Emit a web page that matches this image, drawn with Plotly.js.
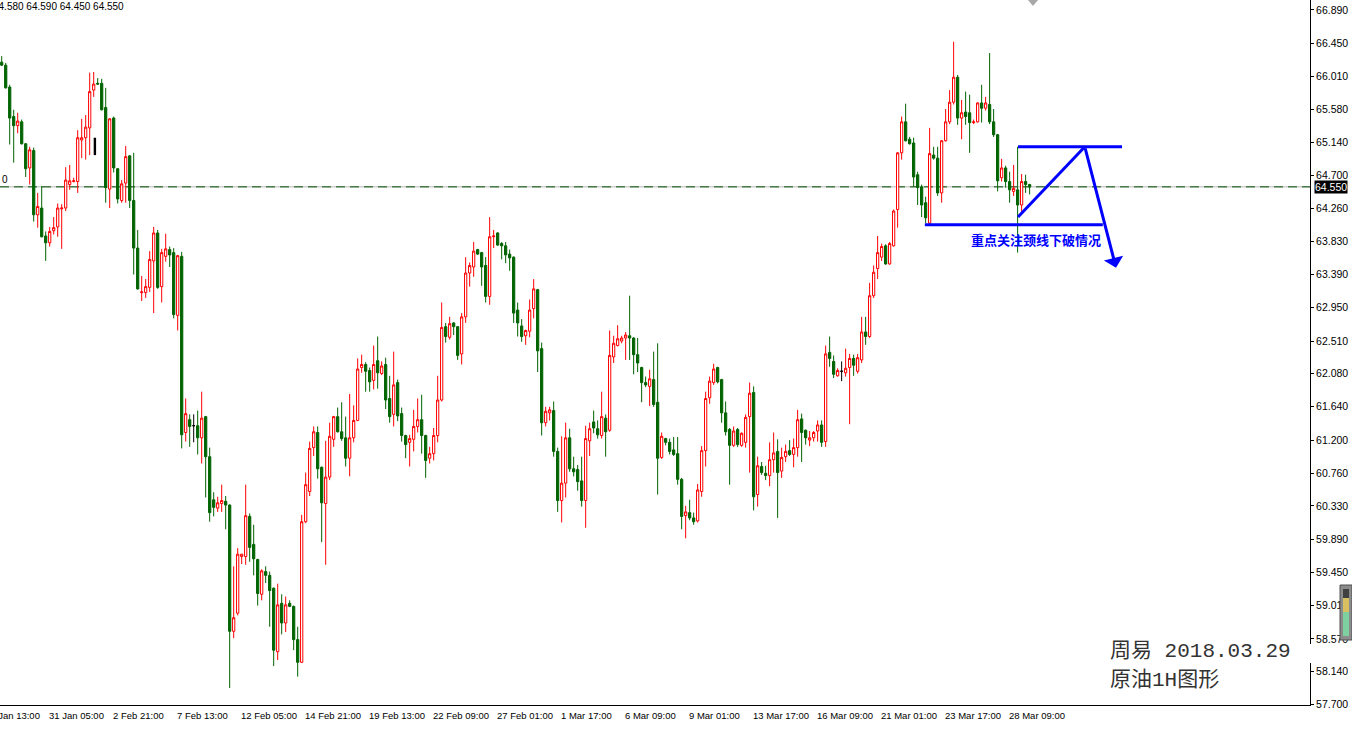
<!DOCTYPE html>
<html><head><meta charset="utf-8">
<script src="https://cdn.plot.ly/plotly-3.0.1.min.js"></script>
<style>html,body{margin:0;padding:0;background:#fff;overflow:hidden}</style>
</head><body><div id="chart" style="width:1352px;height:730px"></div>
<script>
// ---- data (H4 candles) ----
const openP = [
66.20,66.16,65.87,65.48,65.36,65.41,65.12,64.80,65.03,64.18,
64.27,63.90,63.81,63.97,64.02,64.26,64.27,64.58,64.62,64.62,
65.17,65.20,65.33,65.83,65.92,65.92,65.60,64.52,65.46,64.79,
64.37,64.60,64.96,64.37,63.74,63.15,63.15,63.22,63.57,63.94,
63.23,63.63,63.72,63.68,62.85,63.63,61.30,61.47,61.39,61.39,
61.23,61.51,60.98,60.41,60.30,60.36,60.39,60.34,58.67,58.91,
59.66,59.66,60.19,59.82,59.62,59.16,59.46,59.41,59.24,58.40,
59.04,58.78,59.04,59.00,58.56,58.26,60.12,60.52,61.10,61.30,
60.84,60.36,60.71,61.21,61.51,61.31,61.23,60.96,61.23,61.46,
62.16,62.20,62.12,61.99,62.25,62.08,62.20,61.75,61.54,61.96,
61.55,61.26,61.17,61.21,61.38,61.47,61.26,60.96,61.02,61.26,
61.73,62.70,62.56,62.75,62.70,62.34,62.83,63.41,63.49,63.72,
63.68,63.51,63.10,63.89,63.94,63.80,63.77,63.66,63.62,62.92,
62.71,62.58,62.64,62.94,63.19,62.41,61.43,61.56,61.59,61.05,
60.40,60.63,61.23,60.82,60.81,60.66,60.40,61.19,61.44,61.35,
61.26,61.49,61.33,62.30,62.45,62.51,62.55,62.58,62.55,62.33,
62.16,61.96,61.91,62.00,61.70,60.97,61.22,61.17,61.07,61.02,
60.68,60.20,60.24,60.17,60.13,60.52,61.06,61.76,61.96,62.16,
62.00,61.56,61.34,61.13,61.34,61.13,61.17,61.51,61.83,60.48,
60.85,60.76,60.73,60.94,61.05,60.79,60.98,61.06,61.01,61.10,
61.48,61.33,61.20,61.23,61.32,61.40,61.18,62.36,62.24,62.05,
62.11,62.09,62.16,62.28,62.11,62.26,62.63,62.57,63.11,63.47,
63.62,63.77,63.53,63.77,64.25,65.00,65.41,65.18,65.13,64.71,
64.55,64.34,64.07,64.97,64.93,64.47,65.16,65.41,65.67,66.00,
65.46,65.54,65.53,65.40,65.41,65.66,65.59,65.64,65.41,65.24,
64.67,64.80,64.62,64.49,64.51,64.31,64.62,64.58];
const highP = [
66.28,66.19,65.90,65.57,65.53,65.44,65.13,65.08,65.07,64.47,
64.56,63.96,64.02,64.15,64.33,64.32,64.81,64.84,64.67,65.30,
65.45,65.50,66.06,66.07,65.99,65.98,65.86,65.46,65.48,64.80,
64.64,65.09,64.97,65.00,63.98,63.37,63.33,63.70,64.02,63.98,
63.73,63.93,63.76,63.74,63.65,63.69,61.75,61.54,61.54,61.59,
61.84,61.52,61.10,60.51,60.45,60.61,60.46,60.35,59.53,59.77,
59.69,60.61,60.23,60.08,59.63,59.49,59.53,59.46,59.25,59.30,
59.16,59.13,59.08,59.01,58.73,60.21,60.77,61.18,61.38,61.38,
60.85,61.19,61.43,61.52,61.63,61.70,61.51,61.81,61.66,62.28,
62.33,62.23,62.16,62.45,62.57,62.24,62.29,62.05,62.37,62.00,
61.63,61.27,61.27,61.60,61.75,61.80,61.27,61.11,61.36,62.05,
63.02,62.75,62.83,62.76,62.71,62.88,63.62,63.55,63.82,63.73,
63.69,63.62,64.15,63.98,63.95,63.82,63.82,63.72,63.63,63.02,
62.80,62.66,63.06,63.33,63.20,62.49,61.64,61.64,61.71,61.10,
61.25,61.43,61.35,60.98,60.87,60.98,61.39,61.43,61.59,61.46,
61.84,61.54,62.65,62.58,62.72,62.58,62.63,63.11,62.56,62.55,
62.17,62.04,62.13,62.37,62.48,61.30,61.23,61.22,61.24,61.24,
60.70,60.33,60.41,60.24,60.62,61.12,61.84,62.04,62.21,62.17,
62.01,61.71,61.36,61.38,61.36,61.30,61.54,61.96,61.91,60.98,
60.91,60.86,61.17,61.30,61.21,61.10,61.14,61.20,61.22,61.60,
61.55,61.34,61.32,61.32,61.46,61.46,62.45,62.57,62.32,62.15,
62.24,62.41,62.34,62.33,62.34,62.83,62.83,63.28,63.51,63.90,
63.80,63.79,63.82,64.25,65.01,65.48,65.65,65.21,65.20,64.75,
64.58,64.42,65.33,65.08,65.08,65.17,65.58,65.83,66.47,66.03,
65.70,65.81,65.77,65.44,65.67,65.90,65.74,66.32,65.58,65.25,
64.92,64.83,64.75,64.84,65.08,64.72,64.71,64.59];
const lowP = [
66.15,65.85,65.11,64.87,65.26,65.11,64.68,64.58,64.09,64.01,
63.88,63.57,63.76,63.92,63.89,63.73,64.23,64.51,64.61,64.47,
64.93,64.91,64.97,65.74,65.90,65.56,64.34,64.27,64.74,64.33,
64.34,64.34,64.27,63.39,63.19,63.04,63.08,63.16,62.88,63.20,
63.02,63.56,63.49,62.81,62.65,61.09,61.18,61.11,61.17,61.01,
60.89,60.44,60.12,60.19,60.25,60.25,60.02,57.92,58.58,58.88,
59.56,59.55,59.59,59.41,59.01,59.08,59.31,58.73,58.21,58.29,
58.63,58.66,58.99,58.42,58.07,58.25,60.10,60.46,60.99,60.69,
59.85,59.55,60.67,61.11,61.30,61.19,60.85,60.72,61.17,61.45,
62.09,61.84,61.84,61.87,61.88,62.06,61.61,61.43,61.38,61.45,
61.18,60.96,60.85,61.05,61.30,61.02,60.70,60.89,60.93,61.17,
61.71,62.49,62.53,62.59,62.26,62.20,62.75,63.23,63.36,63.65,
63.24,63.02,62.99,63.74,63.77,63.59,63.54,63.44,62.75,62.57,
62.50,62.46,62.56,62.81,62.10,61.26,61.38,61.46,60.98,60.25,
60.11,60.44,60.78,60.72,60.53,60.32,60.04,60.99,61.29,61.22,
61.22,60.98,61.31,62.22,62.44,62.48,62.26,62.26,62.07,62.10,
61.70,61.90,61.65,61.64,60.48,60.95,61.13,61.01,60.99,60.61,
60.02,59.90,60.14,60.08,60.11,60.45,60.85,61.68,61.93,61.95,
61.43,61.26,60.61,61.11,61.11,61.11,61.10,60.77,60.27,60.32,
60.74,60.67,60.59,60.77,60.17,60.70,60.91,60.99,60.84,60.98,
60.91,61.14,61.12,61.18,61.18,61.11,61.11,62.17,62.02,62.04,
61.98,62.04,61.41,62.05,62.08,62.22,62.46,62.55,63.08,63.33,
63.57,63.52,63.52,63.76,64.01,64.91,65.15,65.11,64.55,64.31,
64.15,64.07,64.05,64.91,64.43,64.34,65.15,65.38,65.64,65.37,
65.18,65.37,65.00,65.38,65.40,65.40,65.56,65.38,65.21,64.49,
64.62,64.54,64.34,64.43,63.68,64.22,64.47,64.45];
const closeP = [
66.16,65.86,65.46,65.36,65.42,65.12,64.79,65.04,64.18,64.29,
63.89,63.81,63.96,64.01,64.27,64.27,64.64,64.63,64.63,65.20,
65.20,65.34,65.81,65.91,65.91,65.57,64.54,65.45,64.80,64.39,
64.59,64.95,64.37,63.74,63.20,63.16,63.23,63.59,63.94,63.22,
63.68,63.73,63.65,62.86,63.64,61.27,61.55,61.38,61.39,61.23,
61.49,60.98,60.24,60.31,60.37,60.40,60.34,58.67,58.85,59.69,
59.69,60.20,59.78,59.63,59.17,59.47,59.41,59.21,58.42,59.02,
58.78,59.02,59.00,58.56,58.26,60.12,60.61,61.09,61.31,60.82,
60.37,60.71,61.25,61.51,61.31,61.22,60.96,61.23,61.46,62.14,
62.20,62.11,61.97,62.20,62.09,62.18,61.73,61.51,61.93,61.52,
61.26,61.14,61.22,61.38,61.47,61.26,60.93,61.02,61.26,61.73,
62.69,62.57,62.74,62.70,62.32,62.83,63.41,63.51,63.70,63.66,
63.49,63.10,63.89,63.90,63.78,63.77,63.65,63.61,62.88,62.75,
62.57,62.65,62.92,63.20,62.38,61.43,61.58,61.60,61.05,60.40,
60.63,61.23,60.82,60.78,60.65,60.40,61.22,61.35,61.36,61.27,
61.51,61.31,62.32,62.48,62.54,62.55,62.59,62.55,62.33,62.22,
61.96,61.93,62.01,61.67,60.96,61.25,61.17,61.05,61.01,60.68,
60.19,60.25,60.17,60.12,60.54,61.06,61.75,61.98,62.14,61.97,
61.56,61.31,61.13,61.32,61.14,61.29,61.50,61.82,60.45,60.86,
60.77,60.73,60.94,61.03,60.77,60.97,61.05,61.01,61.10,61.47,
61.30,61.23,61.23,61.30,61.40,61.17,62.34,62.28,62.07,62.12,
62.11,62.15,62.28,62.19,62.29,62.63,62.57,63.11,63.42,63.68,
63.76,63.53,63.80,64.23,65.00,65.41,65.16,65.12,64.68,64.54,
64.31,64.14,64.99,64.93,64.47,65.16,65.41,65.67,66.00,65.46,
65.53,65.48,65.40,65.41,65.66,65.59,65.66,65.41,65.24,64.63,
64.80,64.62,64.51,64.53,64.31,64.62,64.58,64.55];

const xLabels = ["29 Jan 13:00","31 Jan 05:00","2 Feb 21:00","7 Feb 13:00","12 Feb 05:00",
  "14 Feb 21:00","19 Feb 13:00","22 Feb 09:00","27 Feb 01:00","1 Mar 17:00","6 Mar 09:00",
  "9 Mar 01:00","13 Mar 17:00","16 Mar 09:00","21 Mar 01:00","23 Mar 17:00","28 Mar 09:00"];
const firstLabelBar = -5;
const barsPerLabel = 16;
const priceTicks = [66.890,66.450,66.010,65.580,65.140,64.700,64.260,63.830,63.390,62.950,
  62.510,62.080,61.640,61.200,60.760,60.330,59.890,59.450,59.010,58.570,58.140,57.700];
const lastPrice = 64.550;
const headerValues = [64.580, 64.590, 64.450, 64.550];
const noteText = "重点关注颈线下破情况";
const stampLine1 = "周易\u00a02018.03.29";
const stampLine2 = "原油1H图形";

// pattern drawing (bar index, price)
const neckline = {x0: 230.8, x1: 275.3, y: 64.05};
const topLine = {x0: 254.1, x1: 280.1, y: 65.08};
const riseLine = {x0: 254.1, y0: 64.15, x1: 270.8, y1: 65.08};
const fallArrow = {x0: 270.8, y0: 65.08, x1: 278.6, y1: 63.48};

// ---- build ----
const W = 1352, H = 730, ML = 0, MR = 42, MT = 0, MB = 25;
const PW = W - ML - MR, PH = H - MT - MB;
const X0 = -0.425, X1 = 327.1, Y0 = 57.695, Y1 = 67.022;
const n = closeP.length;
const idx = Array.from({length: n}, (_, i) => i);
const norm = idx.filter(i => openP[i] !== closeP[i]);
const doji = idx.filter(i => openP[i] === closeP[i]);
const pick = (a, ids) => ids.map(i => a[i]);
const px2paperX = p => p / PW;
const px2paperY = p => 1 - p / PH;
const barToPaper = b => (b - X0) / (X1 - X0);

const traces = [
  {type: 'candlestick', x: norm, open: pick(openP, norm), high: pick(highP, norm),
   low: pick(lowP, norm), close: pick(closeP, norm), whiskerwidth: 0,
   increasing: {line: {color: '#ff0000', width: 1}, fillcolor: '#ffffff'},
   decreasing: {line: {color: '#006400', width: 1}, fillcolor: '#006400'},
   hoverinfo: 'skip', showlegend: false},
  {type: 'candlestick', x: doji, open: pick(openP, doji), high: pick(highP, doji),
   low: pick(lowP, doji), close: pick(closeP, doji), whiskerwidth: 0,
   increasing: {line: {color: '#000000', width: 1}, fillcolor: '#000000'},
   decreasing: {line: {color: '#000000', width: 1}, fillcolor: '#000000'},
   hoverinfo: 'skip', showlegend: false}
];

const blue = '#0000ff';
const shapes = [
  {type: 'line', xref: 'paper', yref: 'y', x0: 0, x1: 1, y0: lastPrice, y1: lastPrice,
   line: {color: '#b4b4b4', width: 1}, layer: 'below'},
  {type: 'line', xref: 'paper', yref: 'y', x0: 0, x1: 1, y0: lastPrice, y1: lastPrice,
   line: {color: '#005000', width: 1, dash: '9px,5px'}, layer: 'below'},
  {type: 'line', x0: neckline.x0, x1: neckline.x1, y0: neckline.y, y1: neckline.y, line: {color: blue, width: 3}},
  {type: 'line', x0: topLine.x0, x1: topLine.x1, y0: topLine.y, y1: topLine.y, line: {color: blue, width: 3}},
  {type: 'line', x0: riseLine.x0, x1: riseLine.x1, y0: riseLine.y0, y1: riseLine.y1, line: {color: blue, width: 3}},
  // small black marker near early highs
  {type: 'rect', x0: 23.0, x1: 23.6, y0: 64.97, y1: 65.20, fillcolor: '#000', line: {width: 0}},
  // chart-shift triangle at top
  {type: 'path', xref: 'paper', yref: 'paper',
   path: `M ${px2paperX(1028)} 1 L ${px2paperX(1038)} 1 L ${px2paperX(1033)} ${px2paperY(6)} Z`,
   fillcolor: '#a8a8a8', line: {width: 0}},
  // volume widget at right edge
  {type: 'rect', xref: 'paper', yref: 'paper', x0: px2paperX(1340), x1: px2paperX(1352),
   y0: px2paperY(640), y1: px2paperY(585), fillcolor: '#8c8c8c', line: {color: '#505050', width: 1}},
  {type: 'rect', xref: 'paper', yref: 'paper', x0: px2paperX(1343), x1: px2paperX(1349),
   y0: px2paperY(636), y1: px2paperY(612), fillcolor: '#7fd0a0', line: {width: 0}},
  {type: 'rect', xref: 'paper', yref: 'paper', x0: px2paperX(1343), x1: px2paperX(1349),
   y0: px2paperY(612), y1: px2paperY(598), fillcolor: '#d8c060', line: {width: 0}},
  {type: 'rect', xref: 'paper', yref: 'paper', x0: px2paperX(1343), x1: px2paperX(1349),
   y0: px2paperY(598), y1: px2paperY(589), fillcolor: '#404040', line: {width: 0}},
  // white back of the pasted stamp
  {type: 'rect', xref: 'paper', yref: 'paper', x0: px2paperX(1107), x1: px2paperX(1313),
   y0: px2paperY(663), y1: px2paperY(644), fillcolor: '#ffffff', line: {width: 0}}
];

const annotations = [];
xLabels.forEach((t, i) => {
  annotations.push({text: t, xref: 'paper', yref: 'paper', x: barToPaper(firstLabelBar + barsPerLabel * i),
    y: 0, xanchor: 'left', yanchor: 'top', xshift: 1, yshift: -3, showarrow: false,
    font: {family: 'Liberation Sans, Arial, sans-serif', size: 9.5, color: '#000'}});
});
annotations.push({text: headerValues.map(v => v.toFixed(3)).join(' '), xref: 'paper', yref: 'paper',
  x: px2paperX(-9), y: 1, xanchor: 'left', yanchor: 'top', yshift: 1, showarrow: false,
  font: {family: 'Liberation Sans, Arial, sans-serif', size: 10, color: '#000'}});
annotations.push({text: '0', xref: 'paper', yref: 'y', x: 0, y: lastPrice, xanchor: 'left',
  yanchor: 'bottom', showarrow: false, font: {family: 'Liberation Sans, Arial, sans-serif', size: 10, color: '#000'}});
annotations.push({text: lastPrice.toFixed(3), xref: 'paper', yref: 'y', x: 1, y: lastPrice, xanchor: 'left',
  yanchor: 'middle', xshift: 4, showarrow: false, bgcolor: '#000', borderpad: 0,
  font: {family: 'Liberation Sans, Arial, sans-serif', size: 10.5, color: '#fff'}});
annotations.push({text: noteText, x: 258.6, y: 63.85, xanchor: 'center', yanchor: 'middle', showarrow: false,
  font: {family: 'Noto Sans CJK SC, sans-serif', size: 13, color: blue, weight: 'bold'}});
annotations.push({text: '', x: fallArrow.x1, y: fallArrow.y1, ax: fallArrow.x0, ay: fallArrow.y0,
  axref: 'x', ayref: 'y', showarrow: true, arrowhead: 1, arrowsize: 1.1, arrowwidth: 3, arrowcolor: blue,
  standoff: 0, startstandoff: 0});
annotations.push({text: stampLine1, xref: 'paper', yref: 'paper', x: px2paperX(1108), y: px2paperY(651),
  xanchor: 'left', yanchor: 'middle', showarrow: false,
  font: {family: 'Liberation Mono, Noto Sans CJK SC, serif', size: 21, color: '#333'}});
annotations.push({text: stampLine2, xref: 'paper', yref: 'paper', x: px2paperX(1108), y: px2paperY(680),
  xanchor: 'left', yanchor: 'middle', showarrow: false,
  font: {family: 'Liberation Mono, Noto Sans CJK SC, serif', size: 21, color: '#333'}});

const layout = {
  width: W, height: H, margin: {l: ML, r: MR, t: MT, b: MB, pad: 0},
  paper_bgcolor: '#ffffff', plot_bgcolor: '#ffffff', showlegend: false,
  boxgap: 0.2, boxgroupgap: 0.3,
  xaxis: {range: [X0, X1], showgrid: false, zeroline: false, showticklabels: false, ticks: '',
    showline: true, mirror: true, linecolor: '#000', linewidth: 1, rangeslider: {visible: false}, fixedrange: true},
  yaxis: {range: [Y0, Y1], side: 'right', showgrid: false, zeroline: false, tickmode: 'array',
    tickvals: priceTicks, ticktext: priceTicks.map(v => v.toFixed(3)), ticks: 'outside', ticklen: 3,
    tickcolor: '#000', tickfont: {family: 'Liberation Sans, Arial, sans-serif', size: 10.5, color: '#000'},
    showline: true, linecolor: '#000', linewidth: 1, fixedrange: true},
  shapes: shapes, annotations: annotations
};
Plotly.newPlot('chart', traces, layout, {displayModeBar: false, staticPlot: true});
</script></body></html>
